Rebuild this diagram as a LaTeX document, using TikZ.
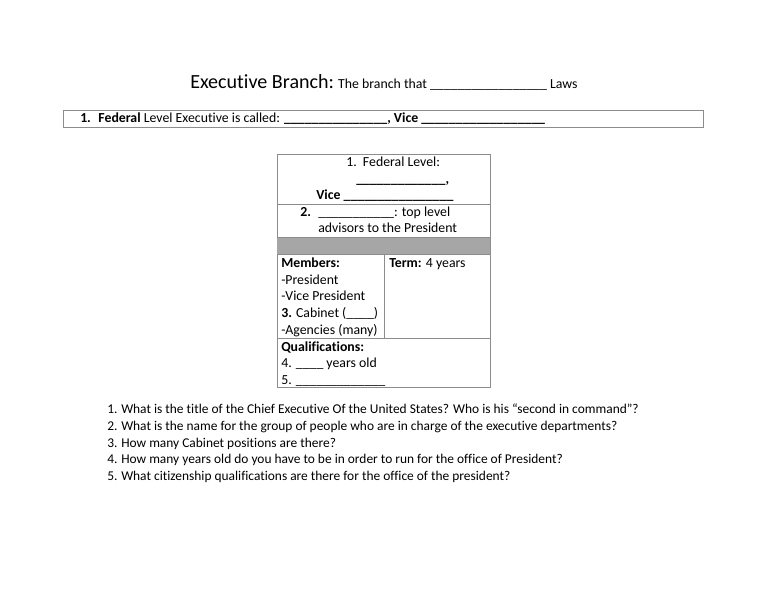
\documentclass[tikz,border=0pt]{standalone}
\usepackage{fontspec}
\setmainfont{Carlito}[Ligatures=NoCommon]
\begin{document}
\begin{tikzpicture}[x=0.797pt,y=-0.797pt,
  txt/.style={anchor=base west,inner sep=0pt,font=\fontsize{11}{13.4}\selectfont},
  quest/.style={txt,font=\fontsize{10.7}{13}\selectfont},
  rule/.style={draw=black!45,line width=0.7pt}]
\useasboundingbox (0,0) rectangle (768,593);
% heading
\node[txt] (title) at (190,89) {{\fontsize{16}{19}\selectfont Executive Branch:} The branch that \_\_\_\_\_\_\_\_\_\_\_\_\_\_\_\_\_ Laws};
% first question, in its box
\draw[rule] (63,110) rectangle (703,127);
\node[txt] (fed) at (80,123) {\textbf{1.}\hspace{6pt}\textbf{Federal} Level Executive is called: \textbf{\_\_\_\_\_\_\_\_\_\_\_\_\_\_\_, Vice \_\_\_\_\_\_\_\_\_\_\_\_\_\_\_\_\_\_}};
% table
\draw[rule] (277,154) rectangle (490,387);
\fill[black!35] (277,237) rectangle (490,254);
\draw[rule] (277,204) -- (490,204);
\draw[rule] (277,237) -- (490,237);
\draw[rule] (277,254) -- (490,254);
\draw[rule] (277,338) -- (490,338);
\draw[rule] (384,254) -- (384,338);
\node[txt] (lvl) at (346,167) {1.\hspace{5pt}Federal Level:};
\node[txt] (pres) at (356,184) {\textbf{\_\_\_\_\_\_\_\_\_\_\_\_\_,}};
\node[txt] (vice) at (316,200) {\textbf{Vice \_\_\_\_\_\_\_\_\_\_\_\_\_\_\_\_}};
\node[txt] (cab) at (300,217) {\textbf{2.}\hspace{6pt}\_\_\_\_\_\_\_\_\_\_\_: top level};
\node[txt] (adv) at (318,233) {advisors to the President};
\node[txt] (mem) at (281,268) {\textbf{Members:}};
\node[txt] (m1) at (281,285) {-President};
\node[txt] (m2) at (281,301) {-Vice President};
\node[txt] (m3) at (281,318) {\textbf{3.} Cabinet (\_\_\_\_)};
\node[txt] (m4) at (281,335) {-Agencies (many)};
\node[txt] (term) at (389,268) {\textbf{Term:} 4 years};
\node[txt] (qual) at (281,352) {\textbf{Qualifications:}};
\node[txt] (q4) at (281,368) {4. \_\_\_\_ years old};
\node[txt] (q5) at (281,385) {5. \_\_\_\_\_\_\_\_\_\_\_\_\_};
% questions
\foreach \n/\y/\q in {1/414/{What is the title of the Chief Executive Of the United States? Who is his “second in command”?},
  2/431/{What is the name for the group of people who are in charge of the executive departments?},
  3/448/{How many Cabinet positions are there?},
  4/464/{How many years old do you have to be in order to run for the office of President?},
  5/481/{What citizenship qualifications are there for the office of the president?}}{
  \node[quest] (n\n) at (107,\y) {\n.};
  \node[quest] (t\n) at (121,\y) {\q};
}
\end{tikzpicture}
\end{document}
